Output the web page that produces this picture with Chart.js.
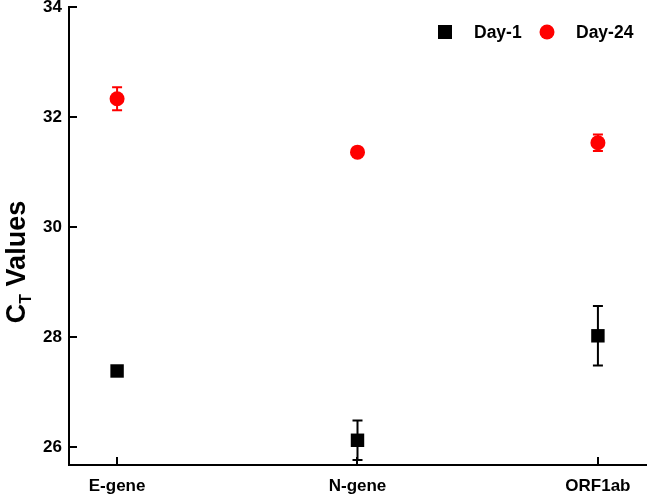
<!DOCTYPE html>
<html>
<head>
<meta charset="utf-8">
<script src="https://cdn.jsdelivr.net/npm/chart.js@4"></script>
<style>
html,body{margin:0;padding:0;background:#fff;}
#wrap{width:647px;height:501px;}
</style>
</head>
<body>
<div id="wrap"><canvas id="c" width="647" height="501"></canvas></div>
<script>
const categories = ['E-gene', 'N-gene', 'ORF1ab'];
const day1 = [27.38, 26.12, 28.02];
const day1Err = [0.08, 0.36, 0.54];
const day24 = [32.33, 31.36, 31.53];
const day24Err = [0.21, 0.04, 0.15];
const yTicks = [26, 28, 30, 32, 34];

const FONT = '"Liberation Sans", Arial, sans-serif';

function pts(vals, errs) {
  return vals.map((v, i) => ({x: i, y: v, err: errs[i]}));
}

const errorBars = {
  id: 'errorBars',
  beforeDatasetsDraw(chart) {
    const ctx = chart.ctx;
    const xs = chart.scales.x, ys = chart.scales.y;
    chart.data.datasets.forEach((ds) => {
      ctx.save();
      ctx.strokeStyle = ds.borderColor;
      ctx.lineWidth = 2;
      ds.data.forEach((p) => {
        const x = xs.getPixelForValue(p.x);
        const yT = ys.getPixelForValue(p.y + p.err);
        const yB = ys.getPixelForValue(p.y - p.err);
        ctx.beginPath();
        ctx.moveTo(x, yT); ctx.lineTo(x, yB);
        ctx.moveTo(x - 5, yT); ctx.lineTo(x + 5, yT);
        ctx.moveTo(x - 5, yB); ctx.lineTo(x + 5, yB);
        ctx.stroke();
      });
      ctx.restore();
    });
  }
};

const innerTicks = {
  id: 'innerTicks',
  afterDraw(chart) {
    const ctx = chart.ctx;
    const xs = chart.scales.x, ys = chart.scales.y;
    const a = chart.chartArea;
    ctx.save();
    ctx.strokeStyle = '#000';
    ctx.lineWidth = 2;
    ctx.beginPath();
    ys.ticks.forEach((t, i) => {
      const y = Math.round(ys.getPixelForTick(i));
      ctx.moveTo(a.left, y); ctx.lineTo(a.left + 8, y);
    });
    xs.ticks.forEach((t, i) => {
      const x = Math.round(xs.getPixelForTick(i));
      ctx.moveTo(x, a.bottom); ctx.lineTo(x, a.bottom - 8);
    });
    ctx.stroke();
    ctx.restore();
  }
};

const yTitle = {
  id: 'yTitle',
  afterDraw(chart) {
    const ctx = chart.ctx;
    ctx.save();
    ctx.translate(25, 262);
    ctx.rotate(-Math.PI / 2);
    ctx.fillStyle = '#000';
    ctx.textBaseline = 'alphabetic';
    const c = 'C', t = 'T', v = ' Values';
    ctx.font = 'bold 27px ' + FONT;
    const wc = ctx.measureText(c).width;
    ctx.font = 'bold 16px ' + FONT;
    const wt = ctx.measureText(t).width;
    ctx.font = 'bold 27px ' + FONT;
    const wv = ctx.measureText(v).width;
    let x = -(wc + wt + wv) / 2;
    ctx.fillText(c, x, 0); x += wc;
    ctx.font = 'bold 16px ' + FONT;
    ctx.fillText(t, x, 6); x += wt;
    ctx.font = 'bold 27px ' + FONT;
    ctx.fillText(v, x, 0);
    ctx.restore();
  }
};

const customLegend = {
  id: 'customLegend',
  afterDraw(chart) {
    const ctx = chart.ctx;
    const a = chart.chartArea;
    const y = 32;
    const items = chart.data.datasets;
    const xs = [a.right - 201, a.right - 99];
    ctx.save();
    ctx.font = 'bold 17.5px ' + FONT;
    ctx.textBaseline = 'middle';
    ctx.textAlign = 'left';
    items.forEach((ds, i) => {
      const cx = xs[i];
      ctx.fillStyle = ds.backgroundColor;
      if (ds.pointStyle === 'rect') {
        ctx.fillRect(cx - 7, y - 7, 14, 14);
      } else {
        ctx.beginPath();
        ctx.arc(cx, y, 7.5, 0, Math.PI * 2);
        ctx.fill();
      }
      ctx.fillStyle = '#000';
      ctx.fillText(ds.label, cx + 29, y + 1);
    });
    ctx.restore();
  }
};

new Chart(document.getElementById('c'), {
  type: 'scatter',
  data: {
    datasets: [
      {
        label: 'Day-1',
        data: pts(day1, day1Err),
        pointStyle: 'rect',
        pointRadius: 9.5,
        pointHoverRadius: 9.5,
        backgroundColor: '#000000',
        borderColor: '#000000',
        borderWidth: 0
      },
      {
        label: 'Day-24',
        data: pts(day24, day24Err),
        pointStyle: 'circle',
        pointRadius: 7.5,
        pointHoverRadius: 7.5,
        backgroundColor: '#ff0000',
        borderColor: '#ff0000',
        borderWidth: 0
      }
    ]
  },
  options: {
    responsive: false,
    animation: false,
    devicePixelRatio: 1,
    layout: {autoPadding: false, padding: {top: 7, right: 1, left: 0, bottom: 0}},
    plugins: {
      legend: {display: false},
      tooltip: {enabled: false}
    },
    scales: {
      x: {
        type: 'linear',
        min: -0.2,
        max: 2.2,
        afterFit(s) { s.height = 36; s.paddingLeft = 0; s.paddingRight = 0; },
        afterBuildTicks(s) { s.ticks = categories.map((c, i) => ({value: i})); },
        ticks: {
          stepSize: 1,
          padding: 11,
          color: '#000',
          font: {family: FONT, size: 17, weight: 'bold'},
          callback: (v) => categories[v]
        },
        grid: {display: false, drawTicks: false},
        border: {display: true, color: '#000', width: 2}
      },
      y: {
        min: 25.67,
        max: 34,
        afterFit(s) { s.width = 69; s.paddingTop = 0; s.paddingBottom = 0; },
        afterBuildTicks(s) { s.ticks = yTicks.map(v => ({value: v})); },
        ticks: {
          padding: 7,
          color: '#000',
          font: {family: FONT, size: 17, weight: 'bold'}
        },
        grid: {display: false, drawTicks: false},
        border: {display: true, color: '#000', width: 2}
      }
    }
  },
  plugins: [errorBars, innerTicks, yTitle, customLegend]
});
</script>
</body>
</html>
